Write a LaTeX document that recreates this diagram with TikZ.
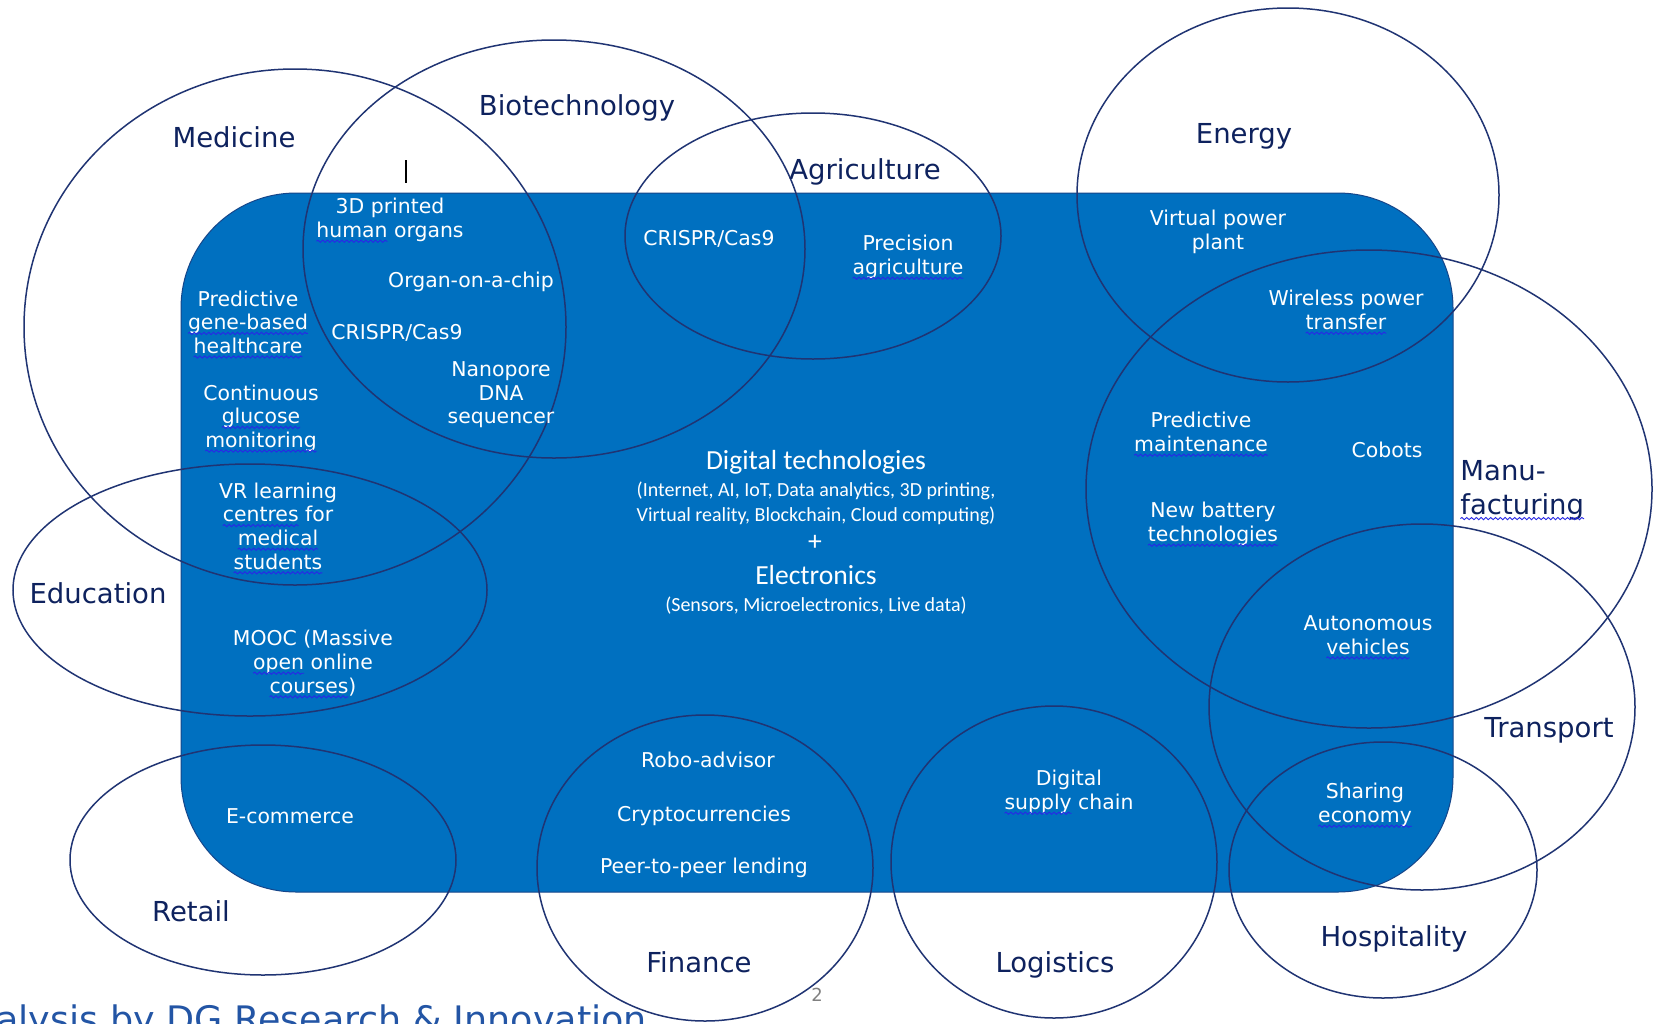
\documentclass[tikz,border=0pt]{standalone}
\usepackage{fontspec}
\setmainfont{DejaVu Sans}
\newfontfamily\calfont{Carlito}
\usetikzlibrary{decorations.pathmorphing}
\definecolor{boxblue}{HTML}{0070C0}
\definecolor{ringc}{RGB}{32,52,115}
\definecolor{navy}{RGB}{14,34,94}
\definecolor{squig}{RGB}{40,40,230}
\definecolor{srcblue}{RGB}{35,85,165}
\newcommand\sq[1]{\tikz[baseline=(w.base)]{\node[inner sep=0pt,outer sep=0pt](w){#1};\draw[overlay,squig,line width=0.45pt,decorate,decoration={snake,amplitude=0.55pt,segment length=2.4pt}]([yshift=-1.9pt]w.base west)--([yshift=-1.9pt]w.base east);}}
\begin{document}
\begin{tikzpicture}[x=0.5pt,y=-0.5pt,
  ring/.style={draw=ringc,line width=0.75pt},
  cat/.style={text=navy,inner sep=0pt,yshift=-1.3pt,font=\fontsize{13.75}{17}\selectfont},
  item/.style={text=white,inner sep=0pt,yshift=-1pt,align=center,font=\fontsize{10.2}{11.8}\selectfont},
  sub/.style={text=white,inner sep=0pt,yshift=-0.6pt,font=\calfont\fontsize{10}{12.1}\selectfont},
  big/.style={text=white,inner sep=0pt,yshift=-0.6pt,font=\calfont\fontsize{13.8}{16}\selectfont}]
\useasboundingbox (0,0) rectangle (1654,1023);
\clip (0,0) rectangle (1654,1023);
\fill[white] (0,0) rectangle (1654,1023);
% central rounded box
\draw[fill=boxblue,draw=ringc!70!boxblue,line width=0.5pt,rounded corners=57.5pt] (181,193) rectangle (1453,892);
% sector ellipses
\draw[ring] (295,327) ellipse [x radius=271,y radius=258]; % Medicine
\draw[ring] (554,249) ellipse [x radius=251,y radius=209]; % Biotechnology
\draw[ring] (813,236) ellipse [x radius=188,y radius=123]; % Agriculture
\draw[ring] (1288,195) ellipse [x radius=211,y radius=187]; % Energy
\draw[ring] (1369,489) ellipse [x radius=283,y radius=239]; % Manufacturing
\draw[ring] (1422,707) ellipse [x radius=213,y radius=183]; % Transport
\draw[ring] (1383,870) ellipse [x radius=154,y radius=128]; % Hospitality
\draw[ring] (1054,862) ellipse [x radius=163,y radius=156]; % Logistics
\draw[ring] (705,868) ellipse [x radius=168,y radius=153]; % Finance
\draw[ring] (263,860) ellipse [x radius=193,y radius=115]; % Retail
\draw[ring] (250,590) ellipse [x radius=237,y radius=126]; % Education
% text cursor
\draw[black,line width=0.6pt] (406,160) -- (406,183);
% sector labels
\node[cat] (lmed) at (234,135) {Medicine};
\node[cat] (lbio) at (577,105) {Biotechnology};
\node[cat] (lagr) at (865,169) {Agriculture};
\node[cat] (lene) at (1244,134) {Energy};
\node[cat,align=left,anchor=west] (lman) at (1460,488) {Manu-\\\sq{facturing}};
\node[cat] (ledu) at (98,591) {Education};
\node[cat] (ltra) at (1549,728) {Transport};
\node[cat] (lhos) at (1394,936) {Hospitality};
\node[cat] (llog) at (1055,962) {Logistics};
\node[cat] (lfin) at (699,960) {Finance};
\node[cat] (lret) at (191,909) {Retail};
% items
\node[item] (i1) at (390,218) {3D printed\\\sq{human} organs};
\node[item] (i2) at (471,280) {Organ-on-a-chip};
\node[item] (i3) at (248,320) {Predictive\\\sq{gene-based}\\\sq{healthcare}};
\node[item] (i4) at (397,331) {CRISPR/Cas9};
\node[item] (i5) at (501,393) {Nanopore\\DNA\\sequencer};
\node[item] (i6) at (261,416) {Continuous\\\sq{glucose}\\\sq{monitoring}};
\node[item] (i7) at (278,524) {VR learning\\\sq{centres} for\\\sq{medical}\\\sq{students}};
\node[item] (i8) at (313,661) {MOOC (Massive\\\sq{open} online\\\sq{courses})};
\node[item] (i9) at (290,814) {E-commerce};
\node[item] (i10) at (709,237) {CRISPR/Cas9};
\node[item] (i11) at (908,255) {Precision\\\sq{agriculture}};
\node[item] (i12) at (1218,230) {Virtual power\\plant};
\node[item] (i13) at (1346,308) {Wireless power\\\sq{transfer}};
\node[item] (i14) at (1201,430) {Predictive\\\sq{maintenance}};
\node[item] (i15) at (1387,448) {Cobots};
\node[item] (i16) at (1213,522) {New battery\\\sq{technologies}};
\node[item] (i17) at (1368,633) {Autonomous\\\sq{vehicles}};
\node[item] (i18) at (1365,803) {Sharing\\\sq{economy}};
\node[item] (i19) at (708,758) {Robo-advisor};
\node[item] (i20) at (704,814) {Cryptocurrencies};
\node[item] (i21) at (704,866) {Peer-to-peer lending};
\node[item] (i22) at (1069,790) {Digital\\\sq{supply} chain};
% centre block
\node[big] (dt) at (816,461) {Digital technologies};
\node[sub] (dt1) at (816,490) {(Internet, AI, IoT, Data analytics, 3D printing,};
\node[sub] (dt2) at (816,515) {Virtual reality, Blockchain, Cloud computing)};
\node[big] (plus) at (815,542) {+};
\node[big] (el) at (816,574) {Electronics};
\node[sub] (el1) at (816,604) {(Sensors, Microelectronics, Live data)};
% footer
\node[text=gray,inner sep=0pt,font=\fontsize{9}{10}\selectfont] (pg) at (817,995) {2};
\node[text=srcblue,inner sep=0pt,anchor=base west,font=\fontsize{18.25}{20}\selectfont] (src) at (-4,1032) {alysis by DG Research \& Innovation};
\end{tikzpicture}
\end{document}
